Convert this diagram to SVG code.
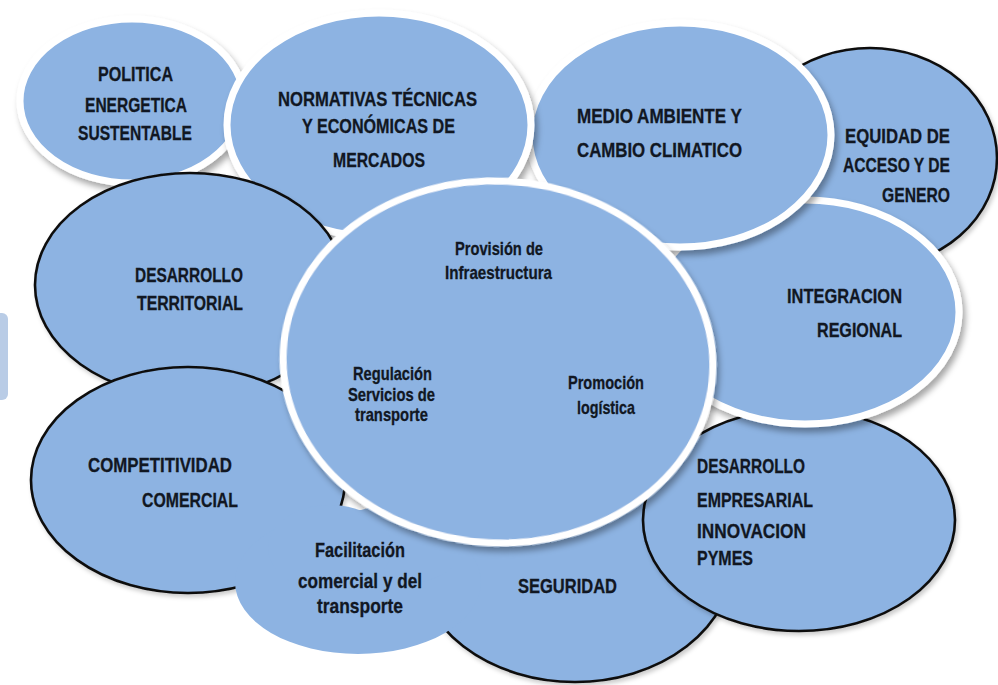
<svg xmlns="http://www.w3.org/2000/svg" width="998" height="685" viewBox="0 0 998 685">
<defs>
<filter id="sh" x="-10%" y="-10%" width="125%" height="130%">
<feDropShadow dx="3" dy="5" stdDeviation="3" flood-color="#000" flood-opacity="0.35"/>
</filter>
<filter id="shb" x="-10%" y="-10%" width="125%" height="130%">
<feDropShadow dx="2" dy="3" stdDeviation="2" flood-color="#000" flood-opacity="0.2"/>
</filter>
</defs>
<style>
.w{fill:#8DB3E2;stroke:#ffffff;stroke-width:7;filter:url(#sh)}
.b{fill:#8DB3E2;stroke:#111111;stroke-width:2.6;filter:url(#shb)}
.n{fill:#8DB3E2;stroke:none}
text{font-family:"Liberation Sans",Arial,sans-serif;font-weight:bold;fill:#111722;stroke:#111722;stroke-width:0.3}
.c{font-size:20.5px}
.s{font-size:19px}
</style>
<rect x="-6" y="313" width="14" height="87" rx="6" fill="#B9CCE6"/>
<g id="equidad">
<ellipse class="b" cx="870" cy="158" rx="127" ry="110"/>
<text class="c" x="845" y="143" textLength="105" lengthAdjust="spacingAndGlyphs">EQUIDAD DE</text>
<text class="c" x="843" y="172" textLength="107" lengthAdjust="spacingAndGlyphs">ACCESO Y DE</text>
<text class="c" x="882" y="202" textLength="68" lengthAdjust="spacingAndGlyphs">GENERO</text>
</g>
<g id="seguridad">
<ellipse class="b" cx="575" cy="560" rx="158" ry="122"/>
<text class="c" x="518" y="593" textLength="99" lengthAdjust="spacingAndGlyphs">SEGURIDAD</text>
</g>
<g id="empresarial">
<ellipse class="b" cx="799" cy="520" rx="156" ry="111"/>
<text class="c" x="697" y="473" textLength="108" lengthAdjust="spacingAndGlyphs">DESARROLLO</text>
<text class="c" x="697" y="507" textLength="116" lengthAdjust="spacingAndGlyphs">EMPRESARIAL</text>
<text class="c" x="697" y="538" textLength="109" lengthAdjust="spacingAndGlyphs">INNOVACION</text>
<text class="c" x="697" y="565" textLength="56" lengthAdjust="spacingAndGlyphs">PYMES</text>
</g>
<g id="integracion">
<ellipse class="w" cx="805" cy="312" rx="154" ry="112"/>
<text class="c" x="787" y="303" textLength="115" lengthAdjust="spacingAndGlyphs">INTEGRACION</text>
<text class="c" x="817" y="337" textLength="85" lengthAdjust="spacingAndGlyphs">REGIONAL</text>
</g>
<g id="medio">
<ellipse class="w" cx="680" cy="135" rx="151" ry="112"/>
<text class="c" x="577" y="123" textLength="165" lengthAdjust="spacingAndGlyphs">MEDIO AMBIENTE Y</text>
<text class="c" x="577" y="157" textLength="165" lengthAdjust="spacingAndGlyphs">CAMBIO CLIMATICO</text>
</g>
<g id="politica">
<ellipse class="w" cx="132" cy="101" rx="112" ry="82"/>
<text class="c" x="98" y="81" textLength="75" lengthAdjust="spacingAndGlyphs">POLITICA</text>
<text class="c" x="85" y="112" textLength="102" lengthAdjust="spacingAndGlyphs">ENERGETICA</text>
<text class="c" x="78" y="140" textLength="114" lengthAdjust="spacingAndGlyphs">SUSTENTABLE</text>
</g>
<g id="normativas">
<ellipse class="w" cx="379" cy="125" rx="152" ry="112"/>
<text class="c" x="278" y="106" textLength="199" lengthAdjust="spacingAndGlyphs">NORMATIVAS TÉCNICAS</text>
<text class="c" x="302" y="133" textLength="153" lengthAdjust="spacingAndGlyphs">Y ECONÓMICAS DE</text>
<text class="c" x="333" y="167" textLength="92" lengthAdjust="spacingAndGlyphs">MERCADOS</text>
</g>
<g id="territorial">
<ellipse class="b" cx="190" cy="285" rx="155" ry="112"/>
<text class="c" x="135" y="282" textLength="108" lengthAdjust="spacingAndGlyphs">DESARROLLO</text>
<text class="c" x="137" y="310" textLength="106" lengthAdjust="spacingAndGlyphs">TERRITORIAL</text>
</g>
<g id="competitividad">
<ellipse class="b" cx="188" cy="480" rx="157" ry="113"/>
<text class="c" x="88" y="472" textLength="144" lengthAdjust="spacingAndGlyphs">COMPETITIVIDAD</text>
<text class="c" x="142" y="507" textLength="96" lengthAdjust="spacingAndGlyphs">COMERCIAL</text>
</g>
<g id="facilitacion">
<ellipse class="n" cx="358" cy="582" rx="123" ry="72"/>
<ellipse class="n" cx="395" cy="545" rx="70" ry="40"/>
<ellipse class="n" cx="330" cy="548" rx="62" ry="43"/>
<text class="c" x="315" y="557" textLength="90" lengthAdjust="spacingAndGlyphs">Facilitación</text>
<text class="c" x="298" y="588" textLength="124" lengthAdjust="spacingAndGlyphs">comercial y del</text>
<text class="c" x="317" y="613" textLength="86" lengthAdjust="spacingAndGlyphs">transporte</text>
</g>
<g id="centro">
<ellipse class="w" cx="498" cy="362" rx="215" ry="181" transform="rotate(3 498 362)"/>
<text class="s" x="455" y="255" textLength="88" lengthAdjust="spacingAndGlyphs">Provisión de</text>
<text class="s" x="445" y="279" textLength="107" lengthAdjust="spacingAndGlyphs">Infraestructura</text>
<text class="s" x="353" y="380" textLength="79" lengthAdjust="spacingAndGlyphs">Regulación</text>
<text class="s" x="348" y="401" textLength="87" lengthAdjust="spacingAndGlyphs">Servicios de</text>
<text class="s" x="355" y="421" textLength="73" lengthAdjust="spacingAndGlyphs">transporte</text>
<text class="s" x="568" y="389" textLength="76" lengthAdjust="spacingAndGlyphs">Promoción</text>
<text class="s" x="577" y="414" textLength="58" lengthAdjust="spacingAndGlyphs">logística</text>
</g>
<g id="connectors"></g>
</svg>
